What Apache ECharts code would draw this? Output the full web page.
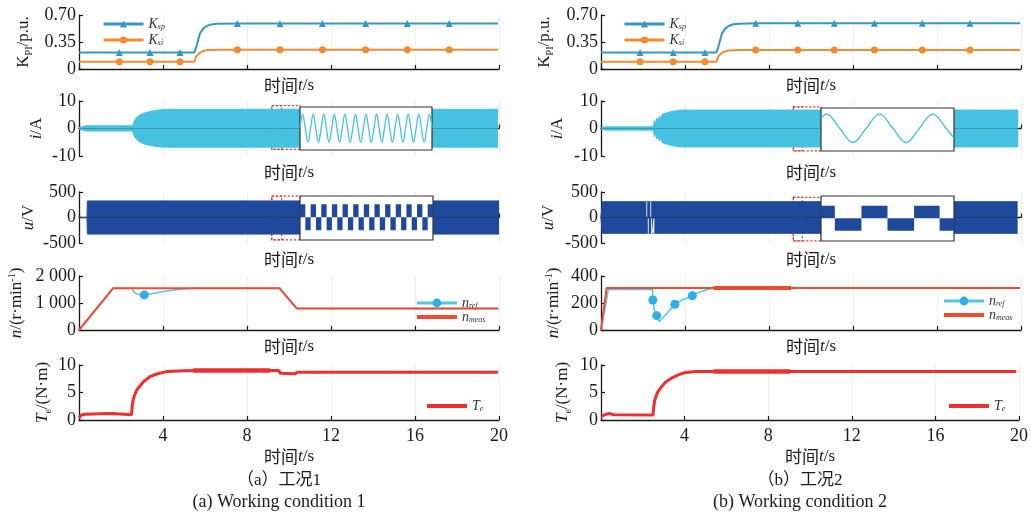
<!DOCTYPE html>
<html>
<head>
<meta charset="utf-8">
<script src="https://cdn.jsdelivr.net/npm/echarts@6/dist/echarts.min.js"></script>
<style>
  html, body { margin: 0; padding: 0; background: #fff; }
  #chart { width: 1031px; height: 515px; }
</style>
</head>
<body>
<div id="chart"></div>
<script>
// ---- K_PI, 工况1 / 工况2 ----
var kT1 = [0, 1.92, 3.38, 4.81, 5.49, 5.6, 5.76, 5.9, 6.08, 6.3, 6.56, 7.54, 9.57, 11.59, 13.65, 15.63, 17.63, 19.95];
var ksp1 = [0.215, 0.215, 0.215, 0.215, 0.215, 0.30, 0.46, 0.52, 0.558, 0.578, 0.587, 0.59, 0.59, 0.59, 0.59, 0.59, 0.59, 0.59];
var ksi1 = [0.095, 0.095, 0.095, 0.095, 0.095, 0.17, 0.21, 0.232, 0.242, 0.247, 0.249, 0.25, 0.25, 0.25, 0.25, 0.25, 0.25, 0.25];
var kMark1 = [1.92, 3.38, 4.81, 7.54, 9.57, 11.59, 13.65, 15.63, 17.63];

var kT2 = [0, 1.86, 3.44, 4.95, 5.5, 5.6, 5.76, 5.9, 6.08, 6.3, 6.6, 7.37, 9.37, 11.11, 13.02, 15.3, 17.57, 19.95];
var ksp2 = [0.215, 0.215, 0.215, 0.215, 0.215, 0.30, 0.46, 0.52, 0.558, 0.58, 0.588, 0.592, 0.592, 0.592, 0.592, 0.592, 0.592, 0.592];
var ksi2 = [0.095, 0.095, 0.095, 0.095, 0.095, 0.17, 0.21, 0.23, 0.239, 0.244, 0.246, 0.246, 0.246, 0.246, 0.246, 0.246, 0.246, 0.246];
var kMark2 = [1.86, 3.44, 4.95, 7.37, 9.37, 11.11, 13.02, 15.3, 17.57];

// ---- 电流 i 包络 ----
var iT1 = [0, 0.3, 2.55, 2.62, 2.7, 2.8, 2.9, 3.06, 3.38, 3.86, 4.17, 19.95];
var iUp1 = [0.3, 1.0, 1.0, 2.6, 3.6, 4.4, 4.9, 5.5, 6.2, 6.8, 7.0, 7.0];
var iLo1 = [-0.3, -0.9, -0.9, -2.6, -3.6, -4.4, -4.9, -5.5, -6.2, -6.7, -6.8, -6.8];

var iT2 = [0, 0.2, 2.49, 2.55, 2.6, 2.66, 2.72, 2.78, 2.84, 2.92, 3.0, 3.1, 3.3, 3.6, 3.85, 19.87];
var iUp2 = [0.2, 0.6, 0.6, 3.0, 1.6, 3.8, 2.6, 4.5, 3.6, 5.2, 4.9, 5.6, 6.1, 6.5, 6.7, 6.7];
var iLo2 = [-0.2, -0.6, -0.6, -3.0, -1.6, -3.8, -2.6, -4.5, -3.6, -5.2, -4.9, -5.6, -6.1, -6.5, -6.7, -6.7];

// 局部放大的电流，每 1/4 周期一个读数（横轴为周期数）
var iZoom1 = [
  0, 5.2, 0, -5.2, 0, 5.2, 0, -5.2, 0, 5.2, 0, -5.2, 0, 5.2, 0, -5.2, 0, 5.2, 0, -5.2, 0, 5.2, 0, -5.2, 0, 5.2,
  0, -5.2, 0, 5.2, 0, -5.2, 0, 5.2, 0, -5.2, 0, 5.2, 0, -5.2, 0, 5.2, 0, -5.2, 0, 5.2, 0, -5.2, 0, 5.2, 0
];
var iZoomT2 = [0, 0.1, 0.35, 0.6, 0.85, 1.1, 1.35, 1.6, 1.85, 2.1, 2.35, 2.5];
var iZoom2 = [3.5, 5.2, 0, -5.2, 0, 5.2, 0, -5.2, 0, 5.2, 0, -3.6];

// ---- 电压 u 包络 ----
var uT1 = [0, 0.38, 0.4, 20];
var uUp1 = [0, 0, 325, 325];
var uLo1 = [0, 0, -325, -325];

var uUpT2 = [0, 0.05, 0.06, 2.16, 2.18, 2.2, 2.35, 2.37, 2.39, 19.84];
var uUp2 = [0, 0, 310, 310, null, 310, 310, null, 310, 310];
var uLoT2 = [0, 0.05, 0.06, 2.23, 2.25, 2.27, 2.39, 2.41, 2.43, 2.5, 2.52, 2.54, 19.84];
var uLo2 = [0, 0, -310, -310, null, -310, -310, null, -310, -310, null, -310, -310];

// 局部放大的电压，每半周期一个读数
var uZoom1 = [260, -260, 260, -260, 260, -260, 260, -260, 260, -260, 260, -260, 260, -260, 260, -260, 260, -260, 260, -260, 260, -260, 260, -260, 260, 260];
var uZoomT2 = [0, 0.26, 0.76, 1.25, 1.75, 2.23, 2.5];
var uZoom2 = [250, -250, 250, -250, 250, -250, -250];

// ---- 转速 n ----
var nMeasT1 = [0, 1.63, 9.54, 10.37, 19.97];
var nMeas1 = [0, 1550, 1550, 800, 800];
var nRefT1 = [0, 1.63, 2.54, 2.59, 2.75, 3.11, 3.7, 4.3, 4.97, 5.5, 9.54, 10.37, 19.97];
var nRef1 = [0, 1550, 1550, 1420, 1335, 1300, 1380, 1460, 1520, 1550, 1550, 800, 800];
var nMark1 = [3.11];

var nMeasT2 = [0, 0.27, 19.95];
var nMeas2 = [0, 312, 312];
var nThickT2 = [5.37, 9.05];
var nThick2 = [312, 312];
var nRefT2 = [0, 0.35, 2.46, 2.47, 2.55, 2.65, 2.77, 3.1, 3.52, 3.9, 4.35, 4.7, 5.2, 5.6, 19.95];
var nRef2 = [0, 300, 300, 222, 140, 106, 61, 116, 190, 225, 254, 282, 305, 312, 312];
var nMark2 = [2.47, 2.65, 3.52, 4.35];

// ---- 电磁转矩 Te ----
var teT1 = [0, 0.1, 0.3, 1.0, 1.6, 1.68, 2.5, 2.53, 2.59, 2.75, 3.07, 3.38, 3.7, 4.17, 5.0, 6.0, 9.5, 9.6, 10.3, 10.4, 19.95];
var te1 = [0.35, 0.9, 1.05, 1.15, 1.2, 1.0, 0.95, 2.4, 3.9, 5.45, 6.96, 7.9, 8.36, 8.8, 8.95, 9.0, 9.0, 8.5, 8.4, 8.7, 8.7];
var teThickT1 = [5.44, 9.1];
var teThick1 = [9.0, 9.0];
var teT2 = [0, 0.2, 0.4, 0.6, 2.49, 2.52, 2.57, 2.7, 2.89, 3.1, 3.37, 3.7, 4.0, 4.5, 19.87];
var te2 = [0.6, 1.0, 1.2, 0.95, 0.9, 2.2, 3.6, 5.0, 6.05, 6.9, 7.6, 8.2, 8.6, 8.8, 8.8];
var teThickT2 = [5.37, 9.05];
var teThick2 = [8.8, 8.8];

// ---------------------------------------------------------------
var serif = "'Liberation Serif', 'Times New Roman', serif";
var cjk = "'Noto Sans CJK SC', sans-serif";
var ink = '#1a1a1a';

var cKsp = '#3497c4', cKsi = '#f28b32';
var cI = '#45c2e1', cU = '#1f4a9c';
var cRef = '#56c6df', cRefMark = '#2eafe6', cMeas = '#ef4a32', cTe = '#ee2f2f';
var cBox = '#e8302a';

function pairs(t, v) {
  return t.map(function (x, i) { return [x, v[i]]; });
}
// 等间隔读数：第 k 个读数对应 k*step
function stepped(v, step) {
  return v.map(function (y, k) { return [k * step, y]; });
}

var nameRich = {
  n: { fontFamily: serif, fontSize: 17, color: ink, lineHeight: 20 },
  it: { fontFamily: serif, fontSize: 17, fontStyle: 'italic', color: ink, lineHeight: 20 },
  cn: { fontFamily: cjk, fontSize: 17, color: ink, lineHeight: 20 },
  sub: { fontFamily: serif, fontSize: 10, color: ink, verticalAlign: 'bottom' },
  sup: { fontFamily: serif, fontSize: 10, color: ink, verticalAlign: 'top' }
};
var legendRich = {
  k: { fontFamily: serif, fontSize: 14, fontStyle: 'italic', color: '#333', lineHeight: 14 },
  s: { fontFamily: serif, fontSize: 8, fontStyle: 'italic', color: '#333', lineHeight: 8, verticalAlign: 'bottom' }
};
var legendText = {
  Ksp: '{k|K}{s|sp}', Ksi: '{k|K}{s|si}',
  nref: '{k|n}{s|ref}', nmeas: '{k|n}{s|meas}', Te: '{k|T}{s|e}'
};

var rows = [
  { top: 15, h: 54 }, { top: 101, h: 55 }, { top: 192, h: 51 }, { top: 276, h: 54 }, { top: 365, h: 55 }
];
var colX = [79, 601];
var yNames = [
  '{n|K}{sub|PI}{n|/p.u.}',
  '{it|i}{n|/A}',
  '{it|u}{n|/V}',
  '{it|n}{n|/(r·min}{sup|-1}{n|)}',
  '{it|T}{sub|e}{n|/(N·m)}'
];
var yCfg = [
  [{ min: 0, max: 0.7, interval: 0.35, gap: 45 }, { min: 0, max: 0.7, interval: 0.35, gap: 46 }],
  [{ min: -10, max: 10, interval: 10, gap: 32 }, { min: -10, max: 10, interval: 10, gap: 33 }],
  [{ min: -500, max: 500, interval: 500, gap: 40 }, { min: -500, max: 500, interval: 500, gap: 42 }],
  [{ min: 0, max: 2000, interval: 1000, gap: 52 }, { min: 0, max: 400, interval: 200, gap: 37 }],
  [{ min: 0, max: 10, interval: 5, gap: 26 }, { min: 0, max: 10, interval: 5, gap: 28 }]
];

function yLabel(v) {
  if (v === 0) return '0';
  if (Math.abs(v) < 1) return v.toFixed(2);
  if (v >= 1000) return String(Math.floor(v / 1000)) + ' ' + String(v % 1000).padStart(3, '0');
  return String(v);
}

var grids = [], xAxes = [], yAxes = [];
for (var c = 0; c < 2; c++) {
  for (var r = 0; r < 5; r++) {
    grids.push({ left: colX[c], top: rows[r].top, width: 420, height: rows[r].h });
    var last = r === 4;
    xAxes.push({
      gridIndex: grids.length - 1, type: 'value', min: 0, max: 20, interval: 4,
      axisLine: { lineStyle: { color: ink, width: 1.3 } },
      axisTick: { inside: true, length: 4, lineStyle: { color: ink, width: 1.2 } },
      axisLabel: { show: last, showMinLabel: false, margin: 7, fontFamily: serif, fontSize: 18, color: ink },
      splitLine: { show: true, lineStyle: { color: '#efefef', width: 1 } },
      name: '{cn|时间}{it|t}{n|/s}', nameLocation: 'middle', nameGap: last ? 27 : 7,
      nameTextStyle: { rich: nameRich }
    });
    var yc = yCfg[r][c];
    yAxes.push({
      gridIndex: grids.length - 1, type: 'value', min: yc.min, max: yc.max, interval: yc.interval,
      axisLine: { show: true, lineStyle: { color: ink, width: 1.3 } },
      axisTick: { show: true, inside: true, length: 4, lineStyle: { color: ink, width: 1.2 } },
      axisLabel: { margin: 3, fontFamily: serif, fontSize: 18, color: ink, formatter: yLabel },
      splitLine: { show: false },
      name: yNames[r], nameLocation: 'middle', nameGap: yc.gap,
      nameTextStyle: { rich: nameRich }
    });
  }
}

// 局部放大小窗（白底黑框）
var insets = [
  { left: 300, top: 107, width: 132, height: 43, xmax: 12.5, ymin: -8.06, ymax: 7.9 },
  { left: 300, top: 196, width: 133, height: 44, xmax: 12.5, ymin: -454, ymax: 426 },
  { left: 821, top: 108, width: 133, height: 43, xmax: 2.5, ymin: -8.38, ymax: 7.42 },
  { left: 821, top: 196, width: 133, height: 45, xmax: 2.5, ymin: -454, ymax: 446 }
];
insets.forEach(function (b) {
  grids.push({ left: b.left, top: b.top, width: b.width, height: b.height, show: true,
    backgroundColor: '#fff', borderColor: '#333', borderWidth: 1.2, z: 10 });
  xAxes.push({ gridIndex: grids.length - 1, type: 'value', min: 0, max: b.xmax, show: false });
  yAxes.push({ gridIndex: grids.length - 1, type: 'value', min: b.ymin, max: b.ymax, show: false });
});

function gi(col, row) { return col * 5 + row; }

function kLine(name, t, v, g, color, symbol, marks) {
  return {
    name: name, type: 'line', xAxisIndex: g, yAxisIndex: g, data: pairs(t, v),
    symbol: symbol, showSymbol: true, showAllSymbol: true,
    symbolSize: function (val) { return marks.indexOf(val[0]) >= 0 ? 7 : 0; },
    lineStyle: { color: color, width: 2 }, itemStyle: { color: color }, z: 3
  };
}
function band(t, v, g, color, area) {
  var s = {
    type: 'line', xAxisIndex: g, yAxisIndex: g, data: pairs(t, v), symbol: 'none',
    lineStyle: { color: color, width: 1 }, areaStyle: { color: color, opacity: 1 }, silent: true
  };
  if (area) {
    s.markArea = {
      silent: true, label: { show: false },
      itemStyle: { color: 'rgba(0,0,0,0)', borderColor: cBox, borderWidth: 1.2, borderType: [2, 2] },
      data: area
    };
  }
  return s;
}
function boxes(x0, x1, xm, y0, y1) {
  return [[{ coord: [x0, y0] }, { coord: [x1, y1] }], [{ coord: [x0, y0] }, { coord: [xm, y1] }]];
}
function nRefLine(t, v, g, marks) {
  return {
    name: 'nref', type: 'line', xAxisIndex: g, yAxisIndex: g, data: pairs(t, v),
    symbol: 'circle', showSymbol: true, showAllSymbol: true,
    symbolSize: function (val) { return marks.indexOf(val[0]) >= 0 ? 9 : 0; },
    lineStyle: { color: cRef, width: 1.5 }, itemStyle: { color: cRefMark }, z: 3
  };
}
function plainLine(name, t, v, g, color, w) {
  return {
    name: name, type: 'line', xAxisIndex: g, yAxisIndex: g, data: pairs(t, v), symbol: 'none',
    lineStyle: { color: color, width: w }, itemStyle: { color: color }, z: 4
  };
}

var series = [
  kLine('Ksp', kT1, ksp1, gi(0, 0), cKsp, 'triangle', kMark1),
  kLine('Ksi', kT1, ksi1, gi(0, 0), cKsi, 'circle', kMark1),
  kLine('Ksp', kT2, ksp2, gi(1, 0), cKsp, 'triangle', kMark2),
  kLine('Ksi', kT2, ksi2, gi(1, 0), cKsi, 'circle', kMark2),

  band(iT1, iUp1, gi(0, 1), cI, boxes(9.18, 10.52, 9.65, 8.3, -7.6)),
  band(iT1, iLo1, gi(0, 1), cI),
  band(iT2, iUp2, gi(1, 1), cI, boxes(9.16, 10.48, 9.59, 7.9, -8.1)),
  band(iT2, iLo2, gi(1, 1), cI),

  band(uT1, uUp1, gi(0, 2), cU, boxes(9.18, 10.52, 9.65, 420, -440)),
  band(uT1, uLo1, gi(0, 2), cU),
  band(uUpT2, uUp2, gi(1, 2), cU, boxes(9.16, 10.48, 9.59, 396, -460)),
  band(uLoT2, uLo2, gi(1, 2), cU),

  nRefLine(nRefT1, nRef1, gi(0, 3), nMark1),
  plainLine('nmeas', nMeasT1, nMeas1, gi(0, 3), cMeas, 2),
  nRefLine(nRefT2, nRef2, gi(1, 3), nMark2),
  plainLine('nmeas', nMeasT2, nMeas2, gi(1, 3), cMeas, 2),
  plainLine('nmeas', nThickT2, nThick2, gi(1, 3), cMeas, 4),

  plainLine('Te', teT1, te1, gi(0, 4), cTe, 3),
  plainLine('Te', teThickT1, teThick1, gi(0, 4), cTe, 4.5),
  plainLine('Te', teT2, te2, gi(1, 4), cTe, 3),
  plainLine('Te', teThickT2, teThick2, gi(1, 4), cTe, 4.5),

  // 放大小窗
  { type: 'line', xAxisIndex: 10, yAxisIndex: 10, data: stepped(iZoom1, 0.25), symbol: 'none', smooth: 0.4,
    lineStyle: { color: cI, width: 1.3 }, z: 12, silent: true },
  { type: 'line', xAxisIndex: 11, yAxisIndex: 11, data: stepped(uZoom1, 0.5), symbol: 'none', step: 'end',
    lineStyle: { width: 0 }, areaStyle: { color: cU, opacity: 1 }, z: 12, silent: true },
  { type: 'line', xAxisIndex: 12, yAxisIndex: 12, data: pairs(iZoomT2, iZoom2), symbol: 'none', smooth: 0.4,
    lineStyle: { color: cI, width: 1.3 }, z: 12, silent: true },
  { type: 'line', xAxisIndex: 13, yAxisIndex: 13, data: pairs(uZoomT2, uZoom2), symbol: 'none', step: 'end',
    lineStyle: { width: 0 }, areaStyle: { color: cU, opacity: 1 }, z: 12, silent: true }
];

function legendAt(left, top, names, h, gap) {
  return {
    left: left, top: top, orient: 'vertical', itemWidth: 40, itemHeight: h, itemGap: gap,
    data: names.map(function (n) {
      return (n === 'Te' || n === 'nmeas')
        ? { name: n, itemStyle: { opacity: 0 }, lineStyle: { width: 4 } }
        : { name: n, lineStyle: { width: 3 } };
    }),
    formatter: function (n) { return legendText[n]; },
    textStyle: { rich: legendRich }, selectedMode: false
  };
}

var option = {
  animation: false,
  backgroundColor: '#fff',
  grid: grids,
  xAxis: xAxes,
  yAxis: yAxes,
  legend: [
    legendAt(97, 12, ['Ksp', 'Ksi'], 9, 2),
    legendAt(618, 12, ['Ksp', 'Ksi'], 9, 2),
    legendAt(410, 291, ['nref', 'nmeas'], 11, 0),
    legendAt(937, 289, ['nref', 'nmeas'], 11, 0),
    legendAt(420, 394, ['Te'], 8, 0),
    legendAt(942, 394, ['Te'], 8, 0)
  ],
  graphic: [
    { type: 'text', x: 279, y: 481, style: { text: '（a）工况1', fontFamily: serif + ", 'Noto Sans CJK SC'", fontSize: 17, fill: ink, align: 'center', verticalAlign: 'middle' } },
    { type: 'text', x: 279, y: 502, style: { text: '(a) Working condition 1', fontFamily: serif, fontSize: 18, fill: ink, align: 'center', verticalAlign: 'middle' } },
    { type: 'text', x: 800, y: 481, style: { text: '（b）工况2', fontFamily: serif + ", 'Noto Sans CJK SC'", fontSize: 17, fill: ink, align: 'center', verticalAlign: 'middle' } },
    { type: 'text', x: 800, y: 502, style: { text: '(b) Working condition 2', fontFamily: serif, fontSize: 18, fill: ink, align: 'center', verticalAlign: 'middle' } }
  ],
  series: series
};

var chart = echarts.init(document.getElementById('chart'));
chart.setOption(option);
</script>
</body>
</html>
